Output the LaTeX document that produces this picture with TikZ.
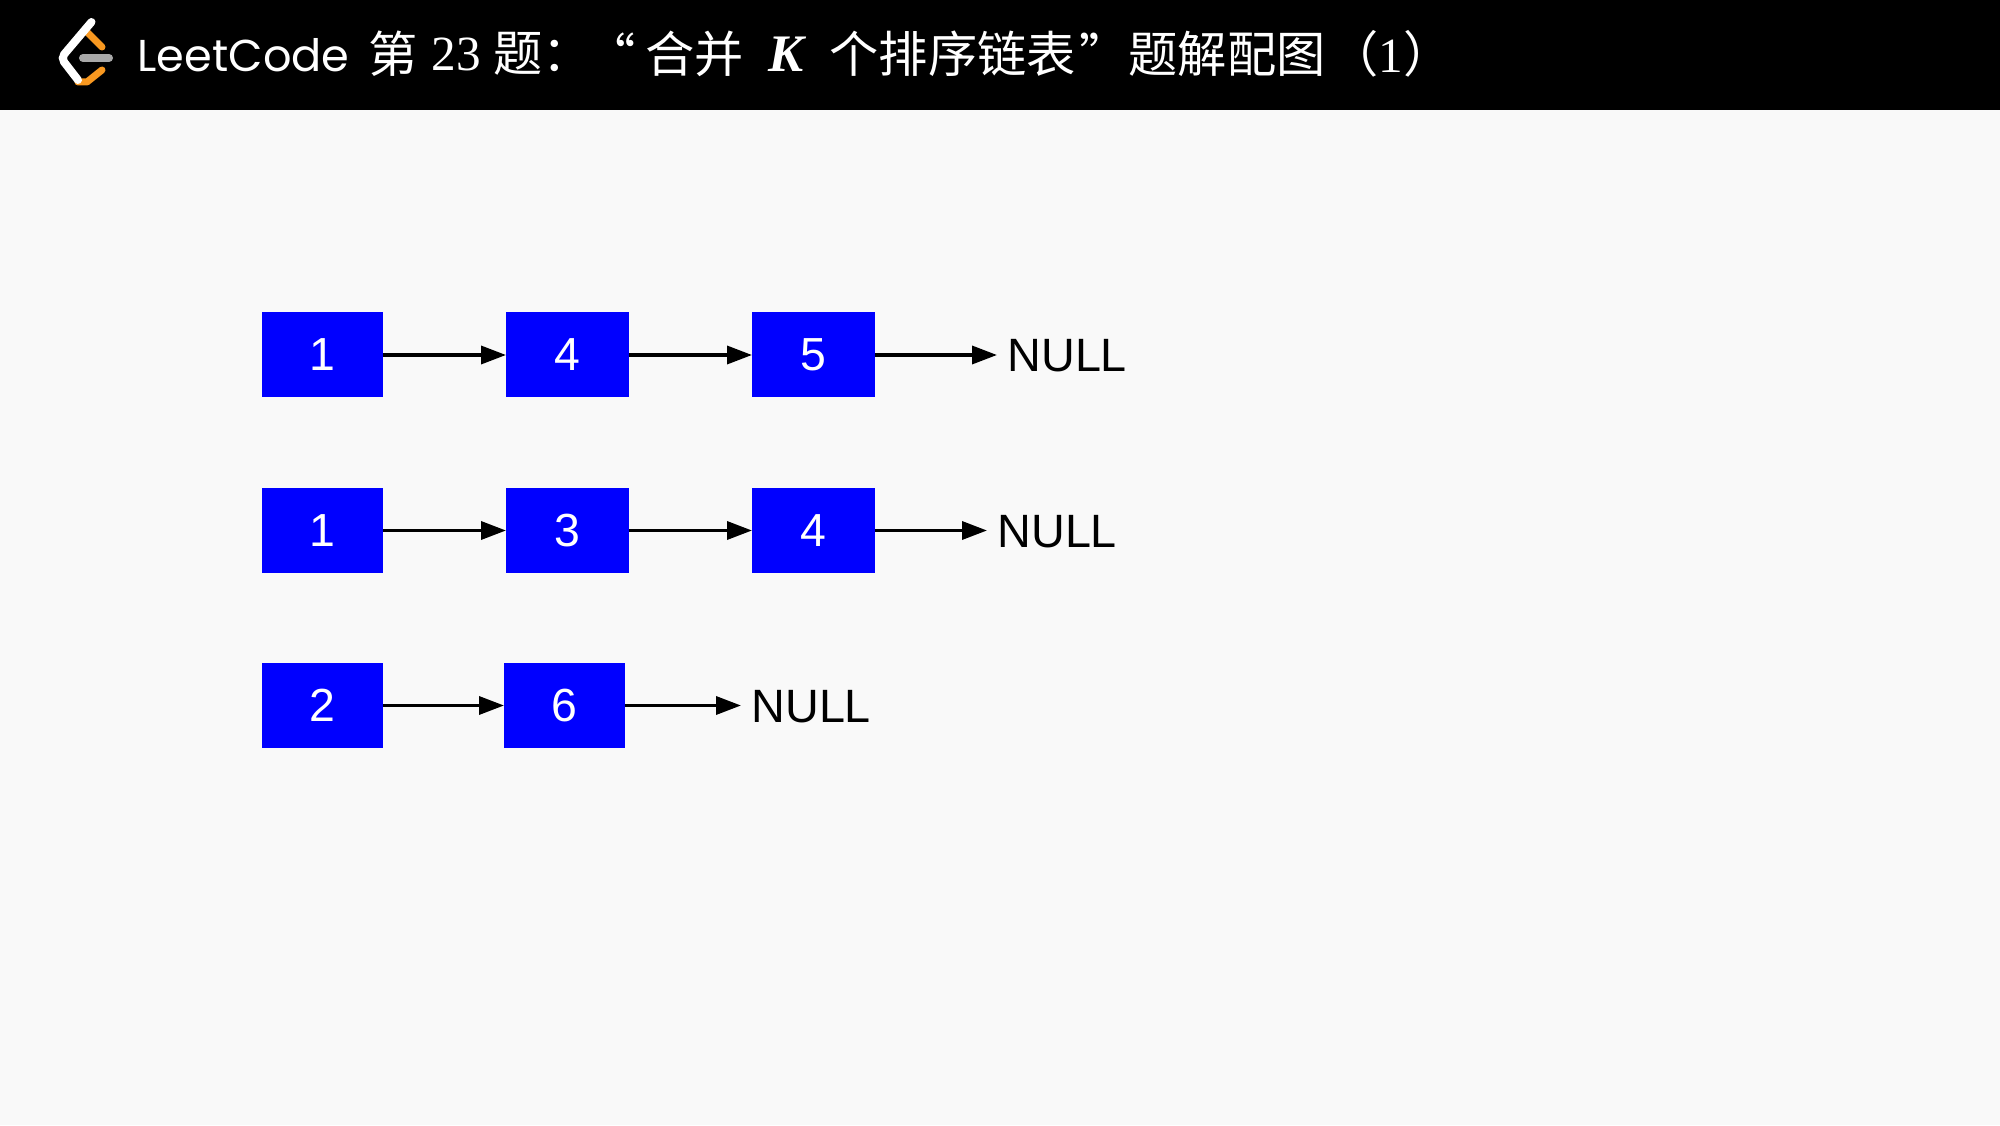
\documentclass[tikz,border=0pt]{standalone}
\usepackage{fontspec}
\setmainfont{Liberation Sans}
\newfontfamily\cjkfont{Noto Sans CJK SC}
\newfontfamily\logofont{Poppins}
\newfontfamily\latinfont{Liberation Serif}
\usetikzlibrary{arrows.meta,positioning,calc}
\definecolor{pagegray}{HTML}{F9F9F9}
\definecolor{boxblue}{HTML}{0000FF}
\definecolor{logoorange}{HTML}{F89820}
\definecolor{logogray}{HTML}{A8A8A8}

\begin{document}
\begin{tikzpicture}[
  >={Triangle[length=0.25cm,width=0.18cm]},
  block/.style={rectangle, fill=boxblue, text=white, inner sep=0pt, outer sep=0pt, minimum width=1.21cm, minimum height=0.85cm, font=\fontsize{13.2pt}{16pt}\selectfont},
  wideblock/.style={block, minimum width=1.23cm},
  nullend/.style={inner sep=0.105cm, outer sep=0pt, yshift=-0.01cm, font=\fontsize{13.3pt}{16pt}\selectfont},
  flow/.style={->, draw=black, line width=1pt},
  headtext/.style={anchor=west, inner sep=0pt, text=white, font=\cjkfont\fontsize{14pt}{16pt}\selectfont},
  headlatin/.style={anchor=west, inner sep=0pt, text=white, font=\latinfont\fontsize{14pt}{16pt}\selectfont}
]
  \useasboundingbox (0,0) rectangle (20,11.25);
  \fill[pagegray] (0,0) rectangle (20,11.25);
  \fill[black] (0,10.15) rectangle (20,11.25);

  \draw[logoorange, line width=0.07cm, line cap=round, line join=round] (0.87,10.93) -- (1.02,10.78);
  \draw[logoorange, line width=0.07cm, line cap=round, line join=round] (1.02,10.55) -- (0.87,10.43) -- (0.78,10.43);
  \draw[white, line width=0.08cm, line cap=round, rounded corners=0.05cm] (0.915,11.03) -- (0.61,10.67) -- (0.78,10.45);
  \draw[logogray, line width=0.08cm, line cap=round] (0.83,10.67) -- (1.09,10.67);

  \node[headtext, font=\logofont\fontsize{12.7pt}{16pt}\selectfont] (logo) at (1.37,10.70) {LeetCode};
  \node[headtext] (t1) at (3.68,10.71) {第};
  \node[headlatin] (t2) at (4.31,10.71) {23};
  \node[headtext] (t3) at (4.93,10.71) {题：};
  \node[headtext] (t4) at (5.86,10.71) {“};
  \node[headtext] (t5) at (6.45,10.71) {合并};
  \node[headlatin, font=\latinfont\bfseries\itshape\fontsize{15pt}{16pt}\selectfont] (t6) at (7.68,10.71) {K};
  \node[headtext] (t7) at (8.29,10.71) {个排序链表};
  \node[headtext] (t8) at (10.79,10.71) {”};
  \node[headtext] (t9) at (11.28,10.71) {题解配图};
  \node[headtext] (t10) at (13.29,10.71) {（{\latinfont 1}）};

  \node[block] (a1) at (3.225,7.70) {1};
  \node[wideblock, right=1.23cm of a1] (a2) {4};
  \node[wideblock, right=1.23cm of a2] (a3) {5};
  \node[nullend, right=1.22cm of a3] (a4) {NULL};

  \node[block] (b1) at (3.225,5.945) {1};
  \node[wideblock, right=1.23cm of b1] (b2) {3};
  \node[wideblock, right=1.23cm of b2] (b3) {4};
  \node[nullend, right=1.12cm of b3] (b4) {NULL};

  \node[block] (c1) at (3.225,4.195) {2};
  \node[block, right=1.21cm of c1] (c2) {6};
  \node[nullend, right=1.16cm of c2] (c3) {NULL};

  \draw[flow] (a1) -- (a2);
  \draw[flow] (a2) -- (a3);
  \draw[flow] (a3) -- (a3 -| a4.west);
  \draw[flow] (b1) -- (b2);
  \draw[flow] (b2) -- (b3);
  \draw[flow] (b3) -- (b3 -| b4.west);
  \draw[flow] (c1) -- (c2);
  \draw[flow] (c2) -- (c2 -| c3.west);
\end{tikzpicture}
\end{document}
